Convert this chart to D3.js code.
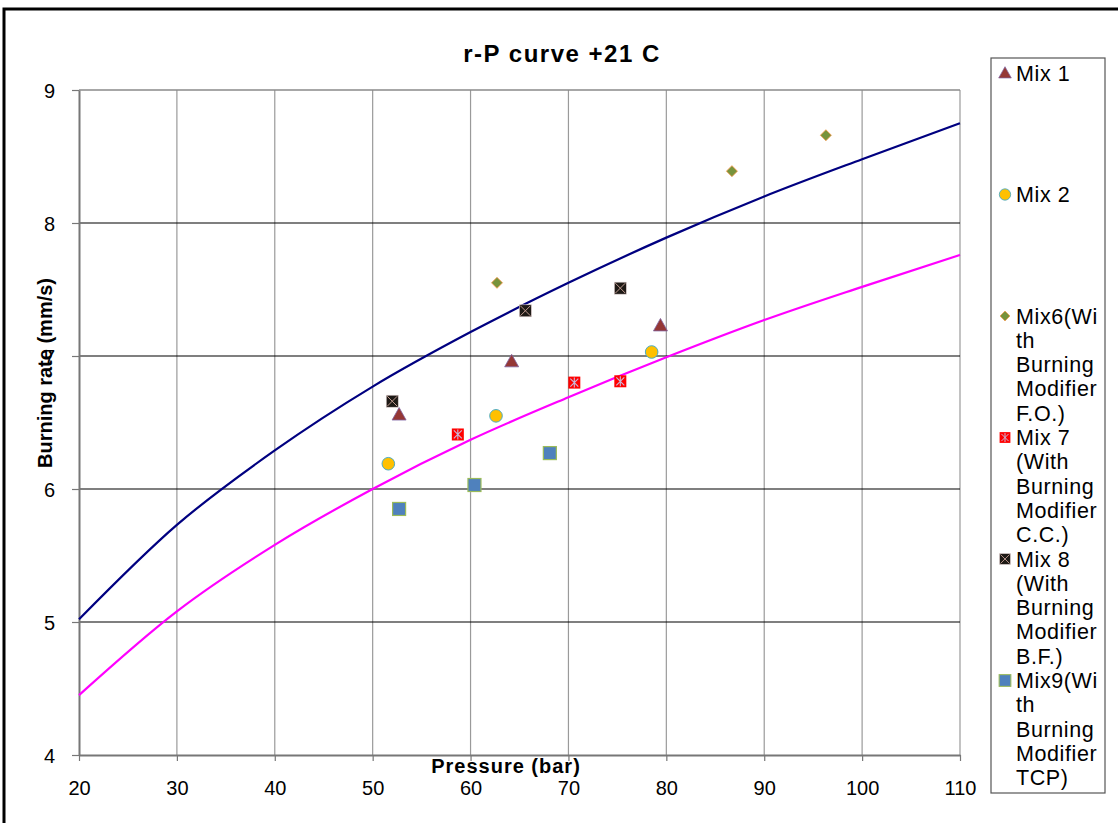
<!DOCTYPE html>
<html><head><meta charset="utf-8">
<script src="https://cdn.jsdelivr.net/npm/d3@7"></script>
<style>body{margin:0;background:#fff}svg{display:block;font-family:"Liberation Sans",Arial,sans-serif}</style>
</head><body><svg id="c" width="1118" height="823"></svg>
<script>
const xTicks=[20,30,40,50,60,70,80,90,100,110];
const yTicks=[4,5,6,7,8,9];
const mix1=[[52.7,6.56],[64.2,6.96],[79.4,7.23]];
const mix2=[[51.6,6.19],[62.6,6.55],[78.5,7.03]];
const mix6=[[62.7,7.55],[86.7,8.39],[96.3,8.66]];
const mix7=[[58.7,6.41],[70.6,6.80],[75.3,6.81]];
const mix8=[[52.0,6.66],[65.6,7.34],[75.3,7.51]];
const mix9=[[52.7,5.85],[60.4,6.03],[68.1,6.27]];
const curveP=[20,30,40,50,60,70,80,90,100,110];
const upperCurve=[5.02,5.73,6.29,6.77,7.18,7.55,7.89,8.20,8.48,8.75];
const lowerCurve=[4.45,5.08,5.58,6.00,6.37,6.69,6.99,7.27,7.52,7.76];
const legendLabels=[["Mix 1"],["Mix 2"],["Mix6(Wi","th","Burning","Modifier","F.O.)"],["Mix 7","(With","Burning","Modifier","C.C.)"],["Mix 8","(With","Burning","Modifier","B.F.)"],["Mix9(Wi","th","Burning","Modifier","TCP)"]];

const svg=d3.select("#c");
const L=79,R=960,T=90,B=755;
const x=d3.scaleLinear().domain([20,110]).range([L,R]);
const y=d3.scaleLinear().domain([4,9]).range([B,T]);

// outer border
svg.append("rect").attr("x",4).attr("y",9).attr("width",1130).attr("height",830).attr("fill","none").attr("stroke","#000").attr("stroke-width",3);

// grid
svg.append("g").selectAll("line").data(xTicks.slice(1)).join("line")
 .attr("x1",d=>x(d)).attr("x2",d=>x(d)).attr("y1",T).attr("y2",B).attr("stroke","#9a9a9a").attr("stroke-width",1.2);
svg.append("g").selectAll("line").data(yTicks.filter(d=>d>4&&d<9)).join("line")
 .attr("x1",L).attr("x2",R).attr("y1",d=>y(d)).attr("y2",d=>y(d)).attr("stroke","#000").attr("stroke-width",1.2);
svg.append("line").attr("x1",L).attr("x2",R).attr("y1",T).attr("y2",T).attr("stroke","#8a8a8a").attr("stroke-width",1.5);

// axes
const xa=svg.append("g").attr("transform",`translate(0,${B})`).call(d3.axisBottom(x).tickValues(xTicks).tickSize(6).tickSizeOuter(0).tickFormat(d3.format("d")));
const ya=svg.append("g").attr("transform",`translate(${L},0)`).call(d3.axisLeft(y).tickValues(yTicks).tickSize(7).tickSizeOuter(0).tickFormat(d3.format("d")));
[xa,ya].forEach(a=>{a.select(".domain").attr("stroke","#777").attr("stroke-width",2);a.selectAll(".tick line").attr("stroke","#777").attr("stroke-width",1.2);a.selectAll("text").attr("font-size",20).attr("font-family","Liberation Sans, Arial").attr("fill","#000");});
xa.selectAll("text").attr("dy",0).attr("y",40);
ya.selectAll("text").attr("x",-24).attr("dy","0.35em");

// curves
const line=d3.line().x(d=>x(d[0])).y(d=>y(d[1])).curve(d3.curveMonotoneX);
svg.append("path").datum(curveP.map((p,i)=>[p,upperCurve[i]])).attr("d",line).attr("fill","none").attr("stroke","#000080").attr("stroke-width",2.2);
svg.append("path").datum(curveP.map((p,i)=>[p,lowerCurve[i]])).attr("d",line).attr("fill","none").attr("stroke","#ff00ff").attr("stroke-width",2.2);

// marker drawers
function triangle(g){g.append("path").attr("d","M0,-7L7,5.5L-7,5.5Z").attr("fill","#953735").attr("stroke","#8064a2").attr("stroke-width",0.8);}
function circle(g){g.append("circle").attr("r",6.3).attr("fill","#ffc000").attr("stroke","#4bacc6").attr("stroke-width",1);}
function diamond(g){g.append("path").attr("d","M0,-5.5L5.5,0L0,5.5L-5.5,0Z").attr("fill","#77933c").attr("stroke","#f79646").attr("stroke-width",0.8);}
function star(g){g.append("rect").attr("x",-6).attr("y",-6).attr("width",12).attr("height",12).attr("fill","#ff0000");
 g.append("path").attr("d","M-4,-4L4,4M-4,4L4,-4M0,-5L0,5").attr("stroke","#c9b8d8").attr("stroke-width",1.1);}
function xsq(g){g.append("rect").attr("x",-6).attr("y",-6).attr("width",12).attr("height",12).attr("fill","#1e1a16").attr("stroke","#e0d0d0").attr("stroke-width",0.6);
 g.append("path").attr("d","M-5,-5L5,5M-5,5L5,-5").attr("stroke","#c09a90").attr("stroke-width",1);}
function square(g){g.append("rect").attr("x",-6.5).attr("y",-6.5).attr("width",13).attr("height",13).attr("fill","#4f81bd").attr("stroke","#9bbb59").attr("stroke-width",1.2);}

const series=[[mix1,triangle],[mix2,circle],[mix6,diamond],[mix7,star],[mix8,xsq],[mix9,square]];
series.forEach(([data,fn])=>{
 svg.append("g").selectAll("g").data(data).join("g").attr("transform",d=>`translate(${x(d[0])},${y(d[1])})`).each(function(){fn(d3.select(this));});
});

// titles
svg.append("text").attr("x",562).attr("y",62).attr("text-anchor","middle").attr("font-size",24).attr("letter-spacing",1.5).attr("font-weight","bold").text("r-P curve +21 C");
svg.append("text").attr("x",506).attr("y",773).attr("text-anchor","middle").attr("font-size",20).attr("letter-spacing",1).attr("font-weight","bold").text("Pressure (bar)");
svg.append("text").attr("transform","translate(52,373) rotate(-90)").attr("text-anchor","middle").attr("font-size",20).attr("font-weight","bold").text("Burning rate (mm/s)");

// legend
svg.append("rect").attr("x",991).attr("y",58).attr("width",114).attr("height",735).attr("fill","#fff").attr("stroke","#555").attr("stroke-width",1.2);
const lh=24.3, slot=5*lh, ly0=73;
legendLabels.forEach((lines,i)=>{
 const cy=ly0+i*slot;
 const g=svg.append("g").attr("transform",`translate(1005,${cy})`);
 const s=0.9; const mg=g.append("g").attr("transform",`scale(${s})`); series[i][1](mg);
 const t=svg.append("text").attr("x",1016).attr("y",cy).attr("font-size",21.5).attr("letter-spacing",0.6);
 lines.forEach((ln,j)=>t.append("tspan").attr("x",1016).attr("y",cy+j*lh).attr("dy","0.35em").text(ln));
});
</script></body></html>
